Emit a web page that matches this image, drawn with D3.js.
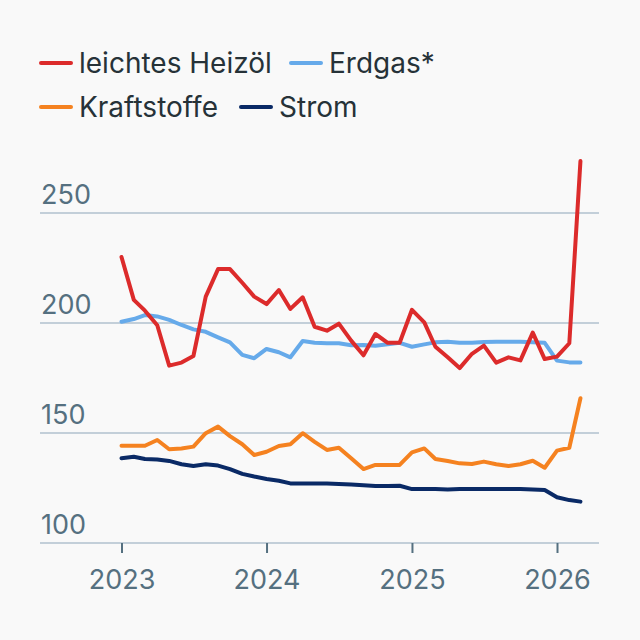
<!DOCTYPE html>
<html>
<head>
<meta charset="utf-8">
<script src="https://cdn.jsdelivr.net/npm/d3@7"></script>
<style>
html,body{margin:0;padding:0;background:#f9f9f9;}
svg{display:block;font-family:Inter, "Noto Sans", sans-serif;}
</style>
</head>
<body>
<svg id="chart" width="640" height="640"></svg>
<script>
// Monthly data Jan 2023 – Mar 2026
const startYear = 2023, startMonth = 0;
const heizoel = [230,210.5,205.6,199,180.6,182,185,212,224.5,224.5,218.3,212,
                 208.6,215,206.4,211.7,198.3,196.5,199.7,192,185.3,195,191,191,
                 206,200.3,189.2,184.4,179.5,186,189.7,182,184.4,183,195.6,183.6,
                 184.7,190.8,273.6];
const erdgas = [200.6,201.8,203.6,203,201.4,199.1,197.1,196,193.5,191.2,185.5,184,
                188.2,186.7,184.4,191.8,191,190.8,190.8,189.9,190,189.7,190.3,191,
                189.2,190.3,191.2,191.5,191,191,191.4,191.5,191.5,191.5,191.2,191,
                182.9,182.1,182.1];
const kraftstoffe = [144.2,144.2,144.2,146.8,142.6,143,143.8,149.9,152.9,148.6,144.9,140,
                141.5,144.1,144.9,149.9,146,142.3,143.3,138.5,133.6,135.5,135.5,135.5,
                141.2,143,138.2,137.3,136.2,135.9,137,135.8,135,135.8,137.4,134.2,
                142,143.3,165.8];
const strom = [138.5,139.2,138.2,138,137.3,135.8,135,135.8,135.2,133.6,131.4,130.2,
                129.1,128.3,127.1,127.1,127.1,127.1,126.8,126.6,126.2,125.9,125.9,126,
                124.5,124.5,124.5,124.3,124.5,124.5,124.5,124.5,124.5,124.5,124.3,124.1,
                120.8,119.5,118.8];
const yTicks = [100,150,200,250];
const xTickYears = [2023,2024,2025,2026];

const seriesNames = ["leichtes Heizöl","Erdgas*","Kraftstoffe","Strom"];
const seriesColors = ["#dc2b2b","#66aaea","#f58220","#0a2a66"];
const seriesData = [heizoel, erdgas, kraftstoffe, strom];

const svg = d3.select("#chart");
const left = 40, right = 599;

const x = d3.scaleTime()
  .domain([new Date(2023,0,1), new Date(2026,0,1)])
  .range([121.5, 557]);
const y = d3.scaleLinear().domain([100,250]).range([543,213]);

const dates = heizoel.map((_,i)=> new Date(startYear, startMonth + i, 1));

// gridlines
const grid = svg.append("g");
grid.selectAll("line").data(yTicks).join("line")
  .attr("x1", left).attr("x2", right)
  .attr("y1", d=>y(d)).attr("y2", d=>y(d))
  .attr("stroke", "#c3cfd9").attr("stroke-width", 2);
grid.selectAll("text").data(yTicks).join("text")
  .attr("x", left + 1).attr("y", d=>y(d) - 9)
  .attr("fill", "#557080").attr("font-size", 27)
  .text(d=>d);

// x axis
const xAxis = d3.axisBottom(x)
  .tickValues(xTickYears.map(yr=>new Date(yr,0,1)))
  .tickFormat(d3.timeFormat("%Y"))
  .tickSize(10).tickPadding(17);
const gx = svg.append("g").attr("transform", `translate(0,${y(100)})`).call(xAxis);
gx.select(".domain").remove();
gx.selectAll(".tick line").attr("stroke", "#557080").attr("stroke-width", 2);
gx.selectAll(".tick text").attr("fill", "#557080").attr("font-size", 27)
  .attr("font-family", "Inter, 'Noto Sans', sans-serif");

// lines (draw Erdgas first, then others)
const line = d3.line().x((d,i)=>x(dates[i])).y(d=>y(d));
const order = [1,0,2,3];
order.forEach(k=>{
  svg.append("path").datum(seriesData[k])
    .attr("fill","none").attr("stroke", seriesColors[k])
    .attr("stroke-width", 4).attr("stroke-linejoin","round").attr("stroke-linecap","round")
    .attr("d", line);
});

// legend
const legendItems = [
  {i:0, x:41, y:63}, {i:1, x:291, y:63},
  {i:2, x:41, y:107}, {i:3, x:241, y:107}
];
const lg = svg.append("g");
legendItems.forEach(it=>{
  lg.append("line").attr("x1", it.x).attr("x2", it.x+30)
    .attr("y1", it.y).attr("y2", it.y)
    .attr("stroke", seriesColors[it.i]).attr("stroke-width", 4).attr("stroke-linecap","round");
  lg.append("text").attr("x", it.x+38).attr("y", it.y + 10)
    .attr("fill", "#263238").attr("font-size", 28)
    .text(seriesNames[it.i]);
});
</script>
</body>
</html>
